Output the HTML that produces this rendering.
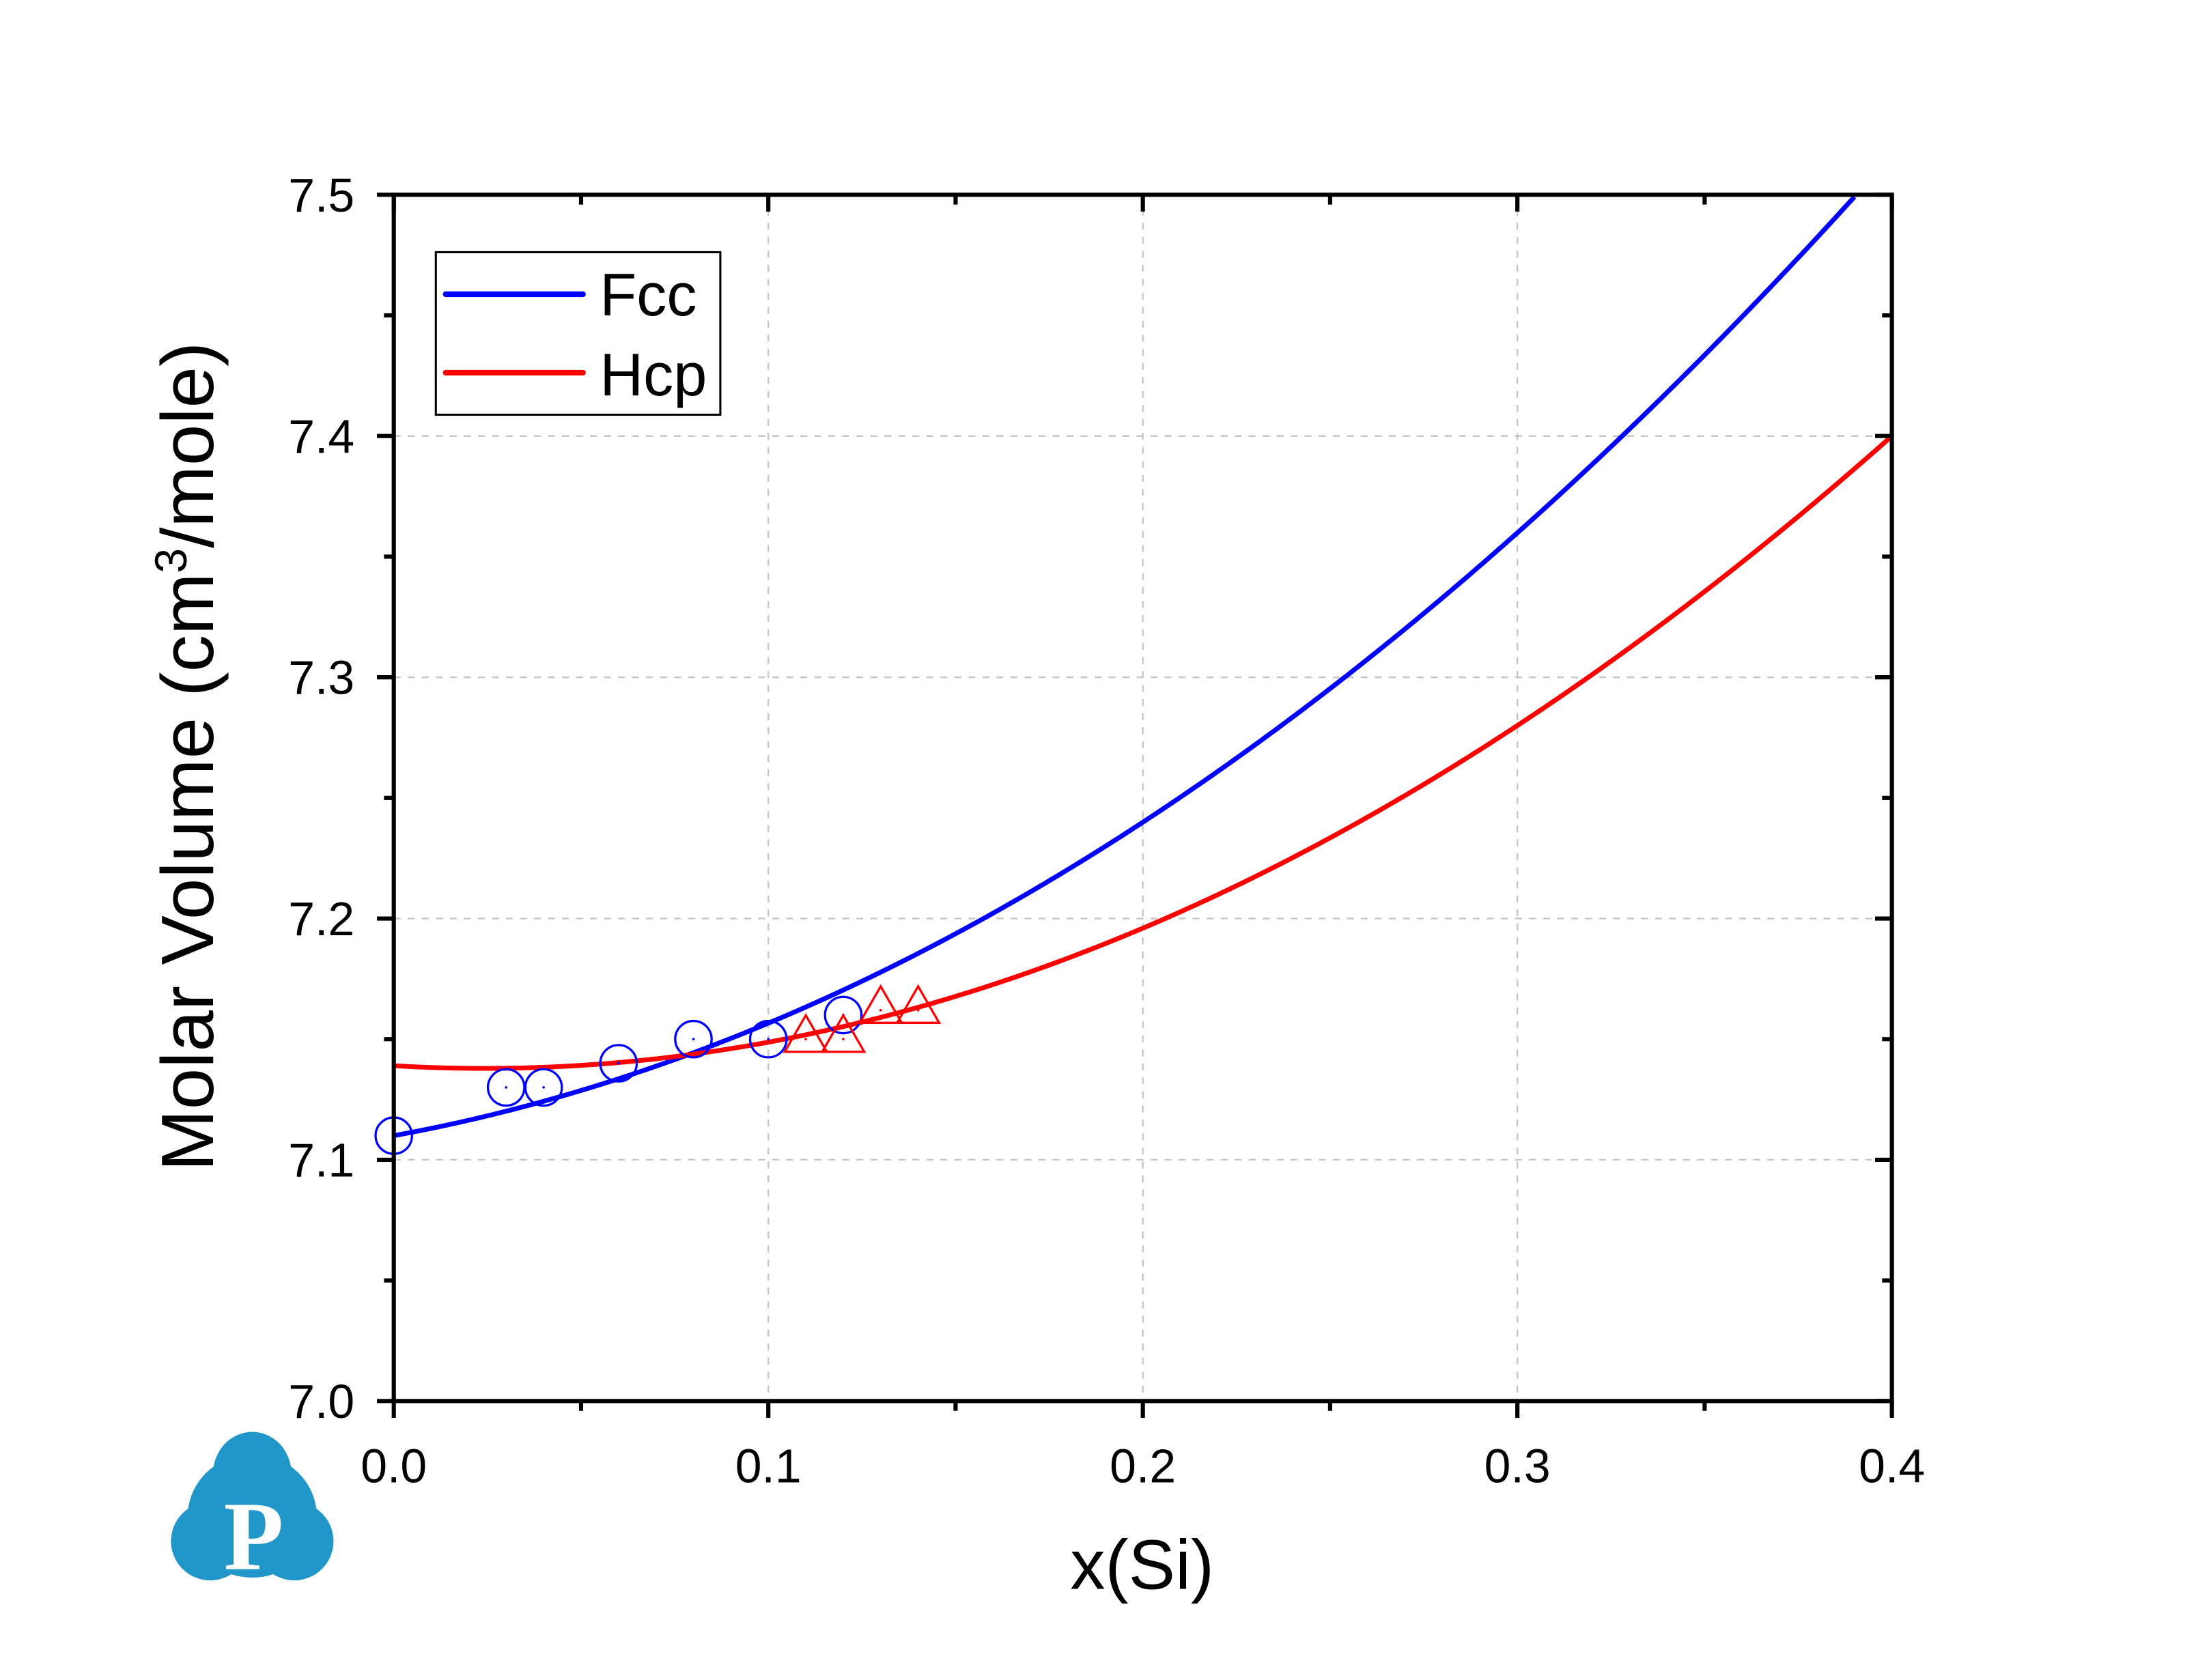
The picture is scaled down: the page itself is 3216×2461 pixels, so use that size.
<!DOCTYPE html>
<html><head><meta charset="utf-8"><style>
html,body{margin:0;padding:0;background:#fff;}
svg{display:block;}
text{font-family:"Liberation Sans",Arial,sans-serif;}
</style></head><body>
<svg id="s" width="3216" height="2461" viewBox="0 0 1567 1199.1" xmlns="http://www.w3.org/2000/svg">
<rect x="0" y="0" width="1567" height="1199.1" fill="#fff"/>
<g id="grid" stroke="#c8c8c8" stroke-width="1.2" stroke-dasharray="5,5" fill="none"></g>
<g id="curves" fill="none" stroke-width="3.4"></g>
<g id="marks" fill="none" stroke-width="1.6"></g>
<rect x="281" y="139" width="1069" height="861" fill="none" stroke="#000" stroke-width="3"/>
<g id="ticks" stroke="#000" stroke-width="3"></g>
<g id="labels" font-size="34" fill="#000"></g>
<text x="815" y="1134" font-size="50" text-anchor="middle">x(Si)</text>
<text transform="translate(152,540) rotate(-90)" font-size="53" text-anchor="middle">Molar Volume (cm<tspan font-size="32" dy="-19">3</tspan><tspan dy="19">/mole)</tspan></text>
<rect x="311" y="180" width="203" height="116" fill="#fff" stroke="#000" stroke-width="1.5"/>
<line x1="318" y1="210" x2="416" y2="210" stroke="#0000ff" stroke-width="4" stroke-linecap="round"/>
<line x1="318" y1="266" x2="416" y2="266" stroke="#ff0000" stroke-width="4" stroke-linecap="round"/>
<text x="428" y="225" font-size="43">Fcc</text>
<text x="428" y="282" font-size="43">Hcp</text>
<g fill="#2196c8">
<ellipse cx="180" cy="1052" rx="28" ry="30"/>
<ellipse cx="180" cy="1082" rx="46" ry="44"/>
<ellipse cx="150" cy="1100" rx="28" ry="28"/>
<ellipse cx="210" cy="1100" rx="28" ry="28"/>
</g>
<text x="181" y="1120" font-size="70" font-weight="bold" fill="#fff" text-anchor="middle" style="font-family:'Liberation Serif',serif">P</text>
</svg>
<script>
var X=function(x){return 281+x*2672.5},Y=function(v){return 1000-(v-7)*1722};
var ns="http://www.w3.org/2000/svg";
function el(p,t,a){var e=document.createElementNS(ns,t);for(var k in a)e.setAttribute(k,a[k]);document.getElementById(p).appendChild(e);return e;}
[0.1,0.2,0.3].forEach(function(x){el('grid','line',{x1:X(x),y1:139,x2:X(x),y2:1000});});
[7.1,7.2,7.3,7.4].forEach(function(v){el('grid','line',{x1:281,y1:Y(v),x2:1350,y2:Y(v)});});
function f1(x){return 7.11+0.283*x+1.833*x*x;}
function f2(x){return 7.139-0.0925*x+1.9125*x*x-0.125*x*x*x;}
var p1="",p2="";
for(var i=0;i<=400;i++){var x=i/1000;var v=f1(x);if(v<=7.5)p1+=(p1?"L":"M")+X(x).toFixed(2)+","+Y(v).toFixed(2);p2+=(p2?"L":"M")+X(x).toFixed(2)+","+Y(f2(x)).toFixed(2);}
el('curves','path',{d:p1,stroke:"#0000ff"});
el('curves','path',{d:p2,stroke:"#ff0000"});
[[0,7.11],[0.03,7.13],[0.04,7.13],[0.06,7.14],[0.08,7.15],[0.1,7.15],[0.12,7.16]].forEach(function(p){
 var cx=X(p[0]),cy=Y(p[1]);el('marks','circle',{cx:cx,cy:cy,r:13,stroke:"#0000ff"});el('marks','circle',{cx:cx,cy:cy,r:0.9,fill:"#0000ff"});});
[[0.11,7.15],[0.12,7.15],[0.13,7.162],[0.14,7.162]].forEach(function(p){
 var cx=X(p[0]),cy=Y(p[1]);el('marks','path',{d:"M"+cx+","+(cy-17)+"L"+(cx+15)+","+(cy+9)+"L"+(cx-15)+","+(cy+9)+"Z",stroke:"#ff0000"});el('marks','circle',{cx:cx,cy:cy,r:0.9,fill:"#ff0000"});});
for(var i=0;i<=8;i++){var x=X(i*0.05),maj=i%2==0,L=maj?12:7;
 el('ticks','line',{x1:x,y1:1000,x2:x,y2:1000+L});el('ticks','line',{x1:x,y1:139,x2:x,y2:139+L});}
for(var i=0;i<=10;i++){var y=Y(7+i*0.05),maj=i%2==0,L=maj?12:7;
 el('ticks','line',{x1:281,y1:y,x2:281-L,y2:y});el('ticks','line',{x1:1350,y1:y,x2:1350-L,y2:y});}
for(var i=0;i<=4;i++){var t=el('labels','text',{x:X(i*0.1),y:1058,'text-anchor':'middle'});t.textContent=(i*0.1).toFixed(1);}
for(var i=0;i<=5;i++){var t=el('labels','text',{x:253,y:Y(7+i*0.1)+12,'text-anchor':'end'});t.textContent=(7+i*0.1).toFixed(1);}
</script>
</body></html>
